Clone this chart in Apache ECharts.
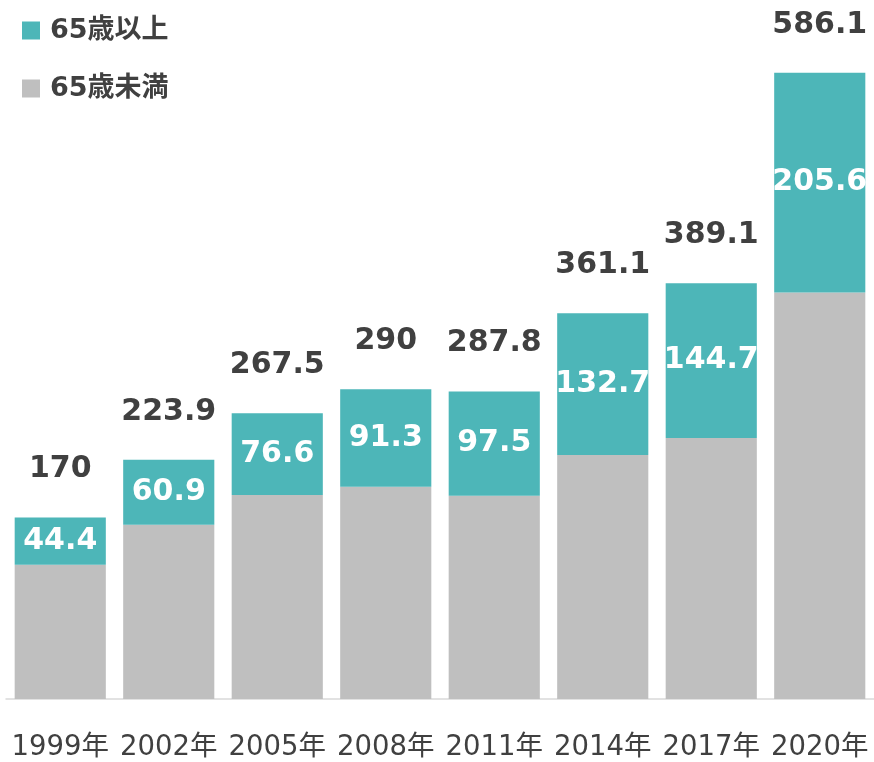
<!DOCTYPE html>
<html>
<head>
<meta charset="utf-8">
<script src="https://cdn.jsdelivr.net/npm/echarts@6/dist/echarts.min.js"></script>
<style>
  html, body { margin: 0; padding: 0; background: #fff; }
  #main { width: 874px; height: 762px; }
</style>
</head>
<body>
<div id="main"></div>
<script>
// 年ごとのデータ
var years = ['1999年', '2002年', '2005年', '2008年', '2011年', '2014年', '2017年', '2020年'];
var totals = [170, 223.9, 267.5, 290, 287.8, 361.1, 389.1, 586.1];
var over65 = [44.4, 60.9, 76.6, 91.3, 97.5, 132.7, 144.7, 205.6];
var under65 = [125.6, 163.0, 190.9, 198.7, 190.3, 228.4, 244.4, 380.5];

var teal = '#4DB6B8';
var gray = '#BFBFBF';
var textColor = '#404040';
var numFont = '"DejaVu Sans", Verdana, sans-serif';
var mixFont = '"DejaVu Sans", "Noto Sans CJK JP", sans-serif';

var myChart = echarts.init(document.getElementById('main'));
var option = {
  animation: false,
  legend: {
    orient: 'vertical',
    left: 22,
    top: 17,
    padding: 0,
    icon: 'rect',
    itemWidth: 18,
    itemHeight: 18,
    itemGap: 31,
    data: ['65歳以上', '65歳未満'],
    textStyle: {
      fontFamily: mixFont,
      fontWeight: 'bold',
      fontSize: 27,
      color: textColor,
      padding: [0, 0, 0, 5]
    }
  },
  grid: { left: 6, right: 0, top: 58, bottom: 63 },
  xAxis: {
    type: 'category',
    data: years,
    axisTick: { show: false },
    axisLine: { lineStyle: { color: '#D9D9D9', width: 1.5 } },
    axisLabel: { interval: 0, margin: 35, fontFamily: mixFont, fontSize: 27.5, color: textColor }
  },
  yAxis: {
    type: 'value',
    min: 0,
    max: 600,
    show: false,
    splitLine: { show: false }
  },
  series: [
    {
      name: '65歳未満',
      type: 'bar',
      stack: 'total',
      barCategoryGap: '16%',
      itemStyle: { color: gray },
      data: under65
    },
    {
      name: '65歳以上',
      type: 'bar',
      stack: 'total',
      itemStyle: { color: teal },
      label: {
        show: true,
        position: 'inside',
        color: '#fff',
        fontFamily: numFont,
        fontWeight: 'bold',
        fontSize: 30
      },
      data: over65
    },
    {
      name: '合計',
      type: 'bar',
      stack: 'total',
      itemStyle: { color: 'transparent' },
      label: {
        show: true,
        position: 'top',
        distance: 33,
        color: textColor,
        fontFamily: numFont,
        fontWeight: 'bold',
        fontSize: 30,
        formatter: function (p) { return totals[p.dataIndex]; }
      },
      data: totals.map(function () { return 0; })
    }
  ]
};
myChart.setOption(option);
</script>
</body>
</html>
